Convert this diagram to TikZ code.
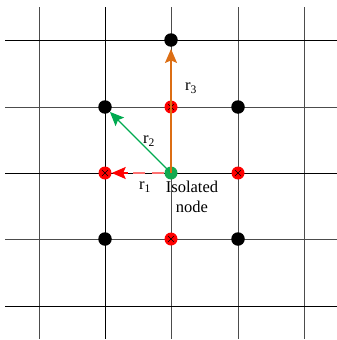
\documentclass[tikz,border=0pt]{standalone}
\usepackage{fontspec}
\setmainfont{Liberation Serif}
\usetikzlibrary{arrows.meta}
\definecolor{dotgreen}{RGB}{20,170,80}
\definecolor{arrgreen}{RGB}{0,170,80}
\definecolor{arrorange}{RGB}{220,110,20}
\begin{document}
\begin{tikzpicture}[x=1pt,y=-1pt,
  gline/.style={line width=0.9pt,black},
  gline2/.style={line width=0.9pt,black!70},
  blackdot/.style={circle,fill=black,inner sep=0pt,minimum size=13.5pt},
  reddot/.style={circle,fill=red,inner sep=0pt,minimum size=13pt,
    path picture={\draw[black,line width=0.6pt] ([shift={(-3pt,-3pt)}]path picture bounding box.center) -- ([shift={(3pt,3pt)}]path picture bounding box.center)
      ([shift={(-3pt,3pt)}]path picture bounding box.center) -- ([shift={(3pt,-3pt)}]path picture bounding box.center);}},
  greendot/.style={circle,fill=dotgreen,inner sep=0pt,minimum size=13pt},
  lbl/.style={font=\fontsize{16.5}{20}\selectfont,inner sep=0pt},
  tip/.style={-{Stealth[length=14pt,width=12pt,inset=2.5pt]}}
]
\useasboundingbox (0,0) rectangle (337,340);
% grid
\draw[gline2] (39,7) -- (39,339);
\draw[gline] (105,7) -- (105,339);
\draw[gline2] (171,7) -- (171,339);
\draw[gline2] (238,7) -- (238,339);
\draw[gline2] (304,7) -- (304,339);
\draw[gline] (5,40) -- (337,40);
\draw[gline2] (5,107) -- (337,107);
\draw[gline] (5,173) -- (337,173);
\draw[gline2] (5,239) -- (337,239);
\draw[gline] (5,306) -- (337,306);
% dots
\node[blackdot] (t)  at (171,40) {};
\node[blackdot] (ul) at (105,107) {};
\node[blackdot] (ur) at (238,107) {};
\node[blackdot] (ll) at (105,239) {};
\node[blackdot] (lr) at (238,239) {};
\node[reddot] (u) at (171,107) {};
\node[reddot] (l) at (105,173) {};
\node[reddot] (r) at (238,173) {};
\node[reddot] (d) at (171,239) {};
\node[greendot] (c) at (171,173) {};
% arrows
\draw[red!55,line width=1.3pt,dash pattern=on 12pt off 7pt] (c) -- ([xshift=20pt]l.east);
\draw[red,line width=1.3pt,tip] ([xshift=16pt]l.east) -- (l);
\draw[arrgreen,line width=1.3pt,tip] (c.center) -- (ul);
\draw[arrorange,line width=1.5pt,tip,shorten >=2pt] (c.center) -- (t);
% labels
\node[lbl] (r1) at (145,187) {r\textsubscript{1}};
\node[lbl] (r2) at (149,141) {r\textsubscript{2}};
\node[lbl] (r3) at (191,88) {r\textsubscript{3}};
\node[lbl,anchor=base] (iso) at (192,192) {Isolated};
\node[lbl,anchor=base] (nd) at (192,212) {node};
\end{tikzpicture}
\end{document}
